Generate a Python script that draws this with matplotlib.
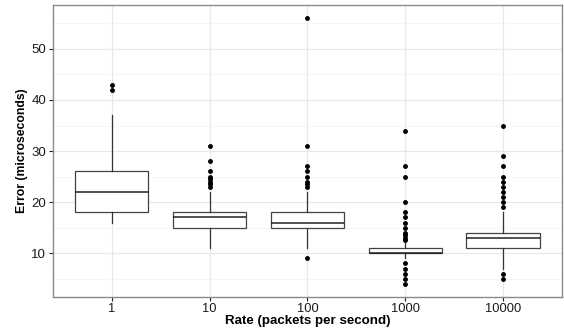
import numpy as np
import matplotlib.pyplot as plt

plt.rcParams['font.family'] = ['Liberation Sans', 'DejaVu Sans']

rates = ['1', '10', '100', '1000', '10000']
q1 = [18, 15, 15, 10, 11]
med = [22, 17, 16, 10, 13]
q3 = [26, 18, 18, 11, 14]
whis_lo = [16, 11, 11, 9, 7]
whis_hi = [37, 22, 22, 12, 18]
fliers = [
    [42, 43],
    [23, 23.5, 24, 24.5, 25, 26, 28, 31],
    [9, 23, 23.5, 24, 25, 26, 27, 31, 56],
    [4, 5, 6, 7, 8, 12.6, 13, 13.5, 14, 15, 16, 17, 18, 20, 25, 27, 34],
    [5, 6, 19, 20, 21, 22, 23, 24, 25, 27, 29, 35],
]

stats = []
for i in range(len(rates)):
    stats.append({'med': med[i], 'q1': q1[i], 'q3': q3[i],
                  'whislo': whis_lo[i], 'whishi': whis_hi[i],
                  'fliers': fliers[i], 'label': rates[i]})

fig = plt.figure(figsize=(5.64, 3.32), dpi=100)
ax = fig.add_axes([0.094, 0.105, 0.902, 0.88])

ax.set_ylim(1.4, 58.6)
ax.set_xlim(0.4, 5.6)

# theme_bw style grid
for y in [5, 15, 25, 35, 45, 55]:
    ax.axhline(y, color='#F5F5F5', lw=0.6, zorder=0)
for y in [10, 20, 30, 40, 50]:
    ax.axhline(y, color='#E8E8E8', lw=0.9, zorder=0)
for x in range(1, 6):
    ax.axvline(x, color='#E8E8E8', lw=0.9, zorder=0)

ax.bxp(stats, positions=range(1, 6), widths=0.75, patch_artist=True,
       boxprops=dict(facecolor='white', edgecolor='#444444', lw=0.9),
       medianprops=dict(color='#222222', lw=1.1),
       whiskerprops=dict(color='#333333', lw=0.9),
       capprops=dict(lw=0),
       flierprops=dict(marker='o', markersize=2.5, markerfacecolor='black',
                       markeredgecolor='black'),
       zorder=2)

ax.set_yticks([10, 20, 30, 40, 50])
ax.set_xticks(range(1, 6))
ax.set_xticklabels(rates, fontsize=9.3, color='#1a1a1a')
ax.tick_params(axis='y', labelsize=9.5, labelcolor='#1a1a1a', pad=2)
ax.tick_params(axis='x', pad=1)
ax.tick_params(length=3, width=0.8, color='#222222')

for s in ax.spines.values():
    s.set_color('#8a8a8a')
    s.set_linewidth(1.0)

ax.set_xlabel('Rate (packets per second)', fontsize=9.6, fontweight='bold', labelpad=0)
ax.set_ylabel('Error (microseconds)', fontsize=8.8, fontweight='bold', labelpad=2)

fig.savefig('out.png', dpi=100)
